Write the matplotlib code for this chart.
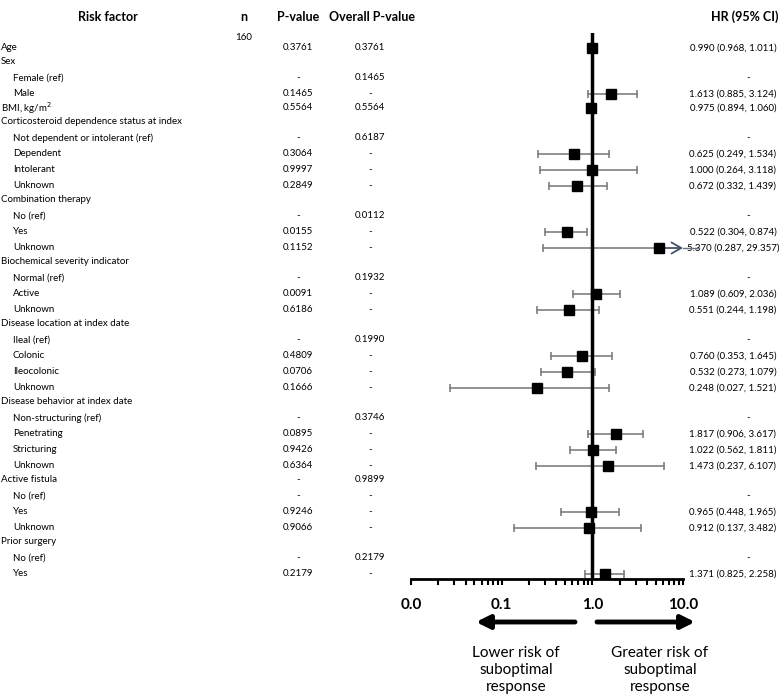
import matplotlib.pyplot as plt
import numpy as np

plt.rcParams['font.family'] = ['Lato', 'DejaVu Sans']

# Table rows (level 0 = group heading, level 1 = indented sub-row)
labels = ['Age', 'Sex', 'Female (ref)', 'Male', 'BMI, kg/m$^2$',
          'Corticosteroid dependence status at index', 'Not dependent or intolerant (ref)',
          'Dependent', 'Intolerant', 'Unknown',
          'Combination therapy', 'No (ref)', 'Yes', 'Unknown',
          'Biochemical severity indicator', 'Normal (ref)', 'Active', 'Unknown',
          'Disease location at index date', 'Ileal (ref)', 'Colonic', 'Ileocolonic', 'Unknown',
          'Disease behavior at index date', 'Non-structuring (ref)', 'Penetrating', 'Stricturing', 'Unknown',
          'Active fistula', 'No (ref)', 'Yes', 'Unknown',
          'Prior surgery', 'No (ref)', 'Yes']
levels = [0, 0, 1, 1, 0,
          0, 1, 1, 1, 1,
          0, 1, 1, 1,
          0, 1, 1, 1,
          0, 1, 1, 1, 1,
          0, 1, 1, 1, 1,
          0, 1, 1, 1,
          0, 1, 1]
pvals = ['0.3761', '', '-', '0.1465', '0.5564',
         '', '-', '0.3064', '0.9997', '0.2849',
         '', '-', '0.0155', '0.1152',
         '', '-', '0.0091', '0.6186',
         '', '-', '0.4809', '0.0706', '0.1666',
         '', '-', '0.0895', '0.9426', '0.6364',
         '-', '-', '0.9246', '0.9066',
         '', '-', '0.2179']
overall = ['0.3761', '', '0.1465', '-', '0.5564',
           '', '0.6187', '-', '-', '-',
           '', '0.0112', '-', '-',
           '', '0.1932', '-', '-',
           '', '0.1990', '-', '-', '-',
           '', '0.3746', '-', '-', '-',
           '0.9899', '-', '-', '-',
           '', '0.2179', '-']
hr = [0.990, None, None, 1.613, 0.975,
      None, None, 0.625, 1.000, 0.672,
      None, None, 0.522, 5.370,
      None, None, 1.089, 0.551,
      None, None, 0.760, 0.532, 0.248,
      None, None, 1.817, 1.022, 1.473,
      None, None, 0.965, 0.912,
      None, None, 1.371]
lo = [0.968, None, None, 0.885, 0.894,
      None, None, 0.249, 0.264, 0.332,
      None, None, 0.304, 0.287,
      None, None, 0.609, 0.244,
      None, None, 0.353, 0.273, 0.027,
      None, None, 0.906, 0.562, 0.237,
      None, None, 0.448, 0.137,
      None, None, 0.825]
hi = [1.011, None, None, 3.124, 1.060,
      None, None, 1.534, 3.118, 1.439,
      None, None, 0.874, 29.357,
      None, None, 2.036, 1.198,
      None, None, 1.645, 1.079, 1.521,
      None, None, 3.617, 1.811, 6.107,
      None, None, 1.965, 3.482,
      None, None, 2.258]
n_total = 160

# row positions (pixel-like units, top down)
ys = []
y = 48
for i, lev in enumerate(levels):
    if i > 0:
        y += 14 if lev == 0 else 16
    ys.append(y)
ys = np.array(ys, dtype=float)

fig = plt.figure(figsize=(7.84, 7.0), dpi=100)
tab = fig.add_axes([0, 0, 1, 1])
tab.set_xlim(0, 784)
tab.set_ylim(700, 0)
tab.axis('off')

fs = 7
hfs = 9
# headers
tab.text(108, 17, 'Risk factor', ha='center', va='center', fontsize=hfs, fontweight='bold')
tab.text(244, 17, 'n', ha='center', va='center', fontsize=hfs, fontweight='bold')
tab.text(298, 17, 'P-value', ha='center', va='center', fontsize=hfs, fontweight='bold')
tab.text(372, 17, 'Overall P-value', ha='center', va='center', fontsize=hfs, fontweight='bold')
tab.text(745, 17, 'HR (95% CI)', ha='center', va='center', fontsize=hfs, fontweight='bold')
tab.text(244, 37, str(n_total), ha='center', va='center', fontsize=fs)

for i, lab in enumerate(labels):
    x0 = 1 if levels[i] == 0 else 13
    tab.text(x0, ys[i], lab, ha='left', va='center', fontsize=fs)
    tab.text(298, ys[i], pvals[i], ha='center', va='center', fontsize=fs)
    tab.text(370, ys[i], overall[i], ha='center', va='center', fontsize=fs)
    if hr[i] is not None:
        tab.text(733, ys[i], f'{hr[i]:.3f} ({lo[i]:.3f}, {hi[i]:.3f})', ha='center', va='center', fontsize=fs)
    elif '(ref)' in lab:
        tab.text(748, ys[i], '-', ha='center', va='center', fontsize=fs)

# forest plot
fp = fig.add_axes([411 / 784, (700 - 579) / 700, 272 / 784, (579 - 33) / 700])
fp.patch.set_alpha(0)
fp.set_xscale('log')
fp.set_xlim(0.01, 10)
fp.set_ylim(579, 33)
for s in ['top', 'right', 'left']:
    fp.spines[s].set_visible(False)
fp.spines['bottom'].set_linewidth(2)
fp.set_yticks([])
fp.set_xticks([0.01, 0.1, 1, 10])
fp.set_xticklabels(['0.0', '0.1', '1.0', '10.0'], fontsize=11, fontweight='bold')
fp.tick_params(axis='x', which='both', direction='out', length=4, width=1.5, pad=10)
fp.axvline(1, color='black', lw=2.5, zorder=2)

gray = '#7f7f7f'
for i in range(len(labels)):
    if hr[i] is None:
        continue
    yy = ys[i]
    if hi[i] <= 10:
        fp.plot([lo[i], hi[i]], [yy, yy], color=gray, lw=1.2, zorder=1)
        fp.plot([lo[i], hi[i]], [yy, yy], ls='none', marker='|', ms=6, mew=1.2, color=gray, zorder=1)
    else:
        # upper limit beyond the axis: open arrow head at the edge
        fp.plot([lo[i], hr[i]], [yy, yy], color=gray, lw=1.2, zorder=1)
        fp.plot([lo[i]], [yy], ls='none', marker='|', ms=6, mew=1.2, color=gray, zorder=1)
        fp.plot([10, 15], [yy, yy], color='#6b7585', lw=1.0, clip_on=False, zorder=1)
        fp.annotate('', xy=(10, yy), xytext=(hr[i], yy),
                    arrowprops=dict(arrowstyle='->,head_length=0.7,head_width=0.4',
                                    color='#44546a', lw=1.3, shrinkA=0, shrinkB=0),
                    annotation_clip=False)
    fp.plot([hr[i]], [yy], ls='none', marker='s', ms=6.5, color='black', zorder=3)

# direction arrows
tab.annotate('', xy=(476, 622), xytext=(575, 622),
             arrowprops=dict(arrowstyle='-|>,head_length=0.8,head_width=0.4', lw=3.5, color='black',
                             shrinkA=0, shrinkB=0))
tab.annotate('', xy=(695, 622), xytext=(597, 622),
             arrowprops=dict(arrowstyle='-|>,head_length=0.8,head_width=0.4', lw=3.5, color='black',
                             shrinkA=0, shrinkB=0))
tab.text(516, 670, 'Lower risk of\nsuboptimal\nresponse', ha='center', va='center',
         fontsize=11, linespacing=1.25)
tab.text(660, 670, 'Greater risk of\nsuboptimal\nresponse', ha='center', va='center',
         fontsize=11, linespacing=1.25)

fig.savefig('out.png', dpi=100)
